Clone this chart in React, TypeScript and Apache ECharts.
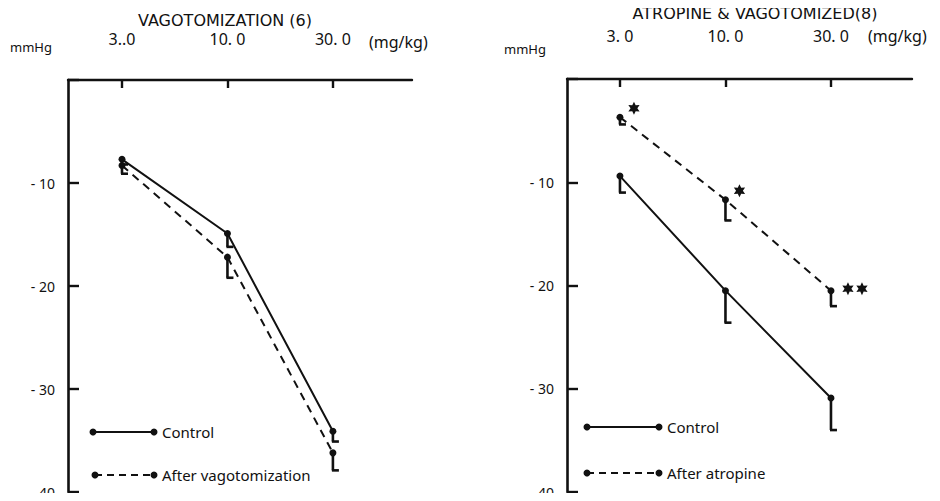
import React, { useEffect, useRef } from "react";
import * as echarts from "echarts";

// ---- data ----
const doseIndex = [0, 1, 2];
const leftDoseLabels = ["3..0", "10. 0", "30. 0"];
const rightDoseLabels = ["3. 0", "10. 0", "30. 0"];
const doseUnit = "(mg/kg)";
const leftTitle = "VAGOTOMIZATION (6)";
const rightTitle = "ATROPINE & VAGOTOMIZED(8)";
const yUnit = "mmHg";

const leftControl = [-7.7, -14.9, -34.1];
const leftControlErr = [0.5, 1.3, 1.0];
const leftVago = [-8.3, -17.2, -36.2];
const leftVagoErr = [0.8, 2.0, 1.7];

const rightControl = [-9.4, -20.5, -30.9];
const rightControlErr = [1.6, 3.1, 3.1];
const rightAtropine = [-3.7, -11.7, -20.5];
const rightAtropineErr = [0.7, 2.0, 1.5];
const rightAtropineStars = [1, 1, 2];

const leftLegend = ["Control", "After vagotomization"];
const rightLegend = ["Control", "After atropine"];

const INK = "#111";
const FONT = "Noto Sans";
const TITLE_FONT = "DejaVu Sans";

function pts(vals: number[]) {
  return doseIndex.map((x, i) => [x, vals[i]]);
}
function errPts(vals: number[], errs: number[]) {
  return doseIndex.map((x, i) => [x, vals[i], errs[i]]);
}

function errorSeries(vals: number[], errs: number[], axis: number) {
  return {
    type: "custom",
    xAxisIndex: axis,
    yAxisIndex: axis,
    data: errPts(vals, errs),
    silent: true,
    renderItem: (_p: any, api: any) => {
      const x = api.value(0);
      const y = api.value(1);
      const e = api.value(2);
      const p0 = api.coord([x, y]);
      const p1 = api.coord([x, y - e]);
      const st = { stroke: INK, lineWidth: 2.6 };
      return {
        type: "group",
        children: [
          { type: "line", shape: { x1: p0[0], y1: p0[1] + 2, x2: p0[0], y2: p1[1] }, style: st },
          { type: "line", shape: { x1: p0[0] - 1, y1: p1[1], x2: p0[0] + 6, y2: p1[1] }, style: st },
        ],
      };
    },
  };
}

function starPoints(cx: number, cy: number, ro: number, ri: number) {
  const out: number[][] = [];
  for (let k = 0; k < 12; k++) {
    const a = (Math.PI / 6) * k - Math.PI / 2;
    const r = k % 2 === 0 ? ro : ri;
    out.push([cx + r * Math.cos(a), cy + r * Math.sin(a)]);
  }
  return out;
}

function starSeries(vals: number[], stars: number[], axis: number) {
  return {
    type: "custom",
    xAxisIndex: axis,
    yAxisIndex: axis,
    silent: true,
    data: doseIndex.map((x, i) => [x, vals[i], stars[i]]),
    renderItem: (_p: any, api: any) => {
      const p = api.coord([api.value(0), api.value(1)]);
      const n = api.value(2);
      const children: any[] = [];
      for (let k = 0; k < n; k++) {
        children.push({
          type: "polygon",
          shape: { points: starPoints(p[0] + (n > 1 ? 17 : 14) + k * 14, p[1] - (n > 1 ? 2 : 9), 6.5, 3.4) },
          style: { fill: INK },
        });
      }
      return { type: "group", children };
    },
  };
}

function lineSeries(vals: number[], axis: number, dashed: boolean) {
  return {
    type: "line",
    xAxisIndex: axis,
    yAxisIndex: axis,
    data: pts(vals),
    symbol: "circle",
    symbolSize: 7,
    itemStyle: { color: INK },
    lineStyle: { color: INK, width: 2, type: dashed ? [8, 6] : "solid" },
    z: 3,
  };
}

function xAxis(grid: number, labels: string[], min: number, max: number, margin: number) {
  return {
    type: "value",
    gridIndex: grid,
    position: "top",
    min,
    max,
    axisLine: { show: true, onZero: false, lineStyle: { color: INK, width: 2.4 } },
    axisTick: {
      show: true,
      inside: true,
      length: 8,
      customValues: doseIndex,
      lineStyle: { color: INK, width: 2.4 },
    },
    axisLabel: {
      show: true,
      customValues: doseIndex,
      margin,
      color: INK,
      fontFamily: FONT,
      fontSize: 16,
      formatter: (v: number) => labels[Math.round(v)] ?? "",
    },
    splitLine: { show: false },
  };
}

function yAxis(grid: number) {
  return {
    type: "value",
    gridIndex: grid,
    min: -40,
    max: 0,
    interval: 10,
    axisLine: { show: true, onZero: false, lineStyle: { color: INK, width: 2.6 } },
    axisTick: { show: true, inside: true, length: 11, lineStyle: { color: INK, width: 2.4 } },
    axisLabel: {
      color: INK,
      fontFamily: FONT,
      fontSize: 14,
      margin: 13,
      formatter: (v: number) => (v === 0 ? "" : "- " + Math.abs(v)),
    },
    splitLine: { show: false },
  };
}

function legendGraphic(x1: number, x2: number, y: number, dashed: boolean, label: string) {
  return [
    {
      type: "line",
      shape: { x1, y1: y, x2, y2: y },
      style: { stroke: INK, lineWidth: 2, lineDash: dashed ? [7, 5] : null },
    },
    { type: "circle", shape: { cx: x1, cy: y, r: 3.5 }, style: { fill: INK } },
    { type: "circle", shape: { cx: x2, cy: y, r: 3.5 }, style: { fill: INK } },
    {
      type: "text",
      x: x2 + 8,
      y,
      style: { text: label, fill: INK, font: `15px "${FONT}"`, verticalAlign: "middle" },
    },
  ];
}

function textG(x: number, y: number, text: string, size: number, align = "left", family = FONT) {
  return {
    type: "text",
    x,
    y,
    style: { text, fill: INK, font: `${size}px "${family}"`, align, verticalAlign: "middle" },
  };
}

export default function App() {
  const ref = useRef<HTMLDivElement>(null);
  useEffect(() => {
    if (!ref.current) return;
    const chart = echarts.init(ref.current, null, { renderer: "svg" });
    chart.setOption({
      animation: false,
      backgroundColor: "#fff",
      grid: [
        { left: 68, top: 80, width: 344, height: 412 },
        { left: 567, top: 79, width: 345, height: 413 },
      ],
      xAxis: [
        xAxis(0, leftDoseLabels, -0.512, 2.75, 33),
        xAxis(1, rightDoseLabels, -0.502, 2.768, 35),
      ],
      yAxis: [yAxis(0), yAxis(1)],
      series: [
        lineSeries(leftControl, 0, false),
        lineSeries(leftVago, 0, true),
        errorSeries(leftControl, leftControlErr, 0),
        errorSeries(leftVago, leftVagoErr, 0),
        lineSeries(rightControl, 1, false),
        lineSeries(rightAtropine, 1, true),
        errorSeries(rightControl, rightControlErr, 1),
        errorSeries(rightAtropine, rightAtropineErr, 1),
        starSeries(rightAtropine, rightAtropineStars, 1),
      ],
      graphic: [
        textG(225, 20, leftTitle, 16, "center", TITLE_FONT),
        textG(755, 13, rightTitle, 16, "center", TITLE_FONT),
        textG(10, 47, yUnit, 13),
        textG(504, 49, yUnit, 13),
        textG(369, 42, doseUnit, 16),
        textG(868, 36, doseUnit, 16),
        ...legendGraphic(93, 154, 432, false, leftLegend[0]),
        ...legendGraphic(95, 154, 475, true, leftLegend[1]),
        ...legendGraphic(587, 659, 427, false, rightLegend[0]),
        ...legendGraphic(587, 659, 473, true, rightLegend[1]),
      ],
    });
    return () => chart.dispose();
  }, []);
  return <div ref={ref} style={{ width: 940, height: 501, margin: -8 }} />;
}
